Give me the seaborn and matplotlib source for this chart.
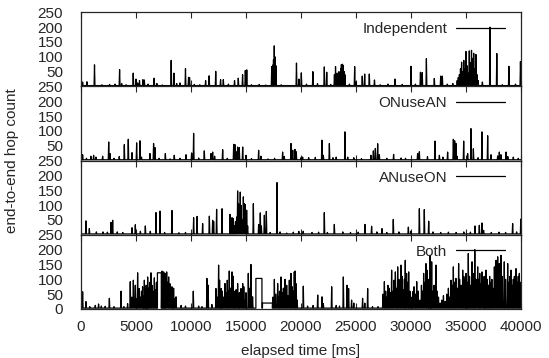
import numpy as np
import pandas as pd
import matplotlib
matplotlib.use("Agg")
import matplotlib.pyplot as plt
import seaborn as sns

# panel names (legend labels), top to bottom
panel_names = ["Independent", "ONuseAN", "ANuseON", "Both"]

# (elapsed ms, hop count) peaks
independent_peaks = [
    (150, 15), (540, 16), (1230, 73), (1900, 6), (2600, 7), (3100, 8), (3510, 57), (3700, 10),
    (4100, 6), (4750, 45), (5000, 25), (5150, 12), (5320, 20), (5630, 23), (5760, 22), (6100, 8),
    (6650, 28), (6900, 10), (7400, 5), (8200, 88), (8450, 45), (8700, 10), (9000, 12), (9500, 60),
    (9780, 31), (9870, 30), (10300, 7), (10800, 6), (11330, 20), (11650, 36), (12250, 51),
    (12690, 23), (12940, 23), (13400, 8), (13960, 20), (14300, 28), (14690, 40), (14940, 54),
    (15070, 56), (15500, 6), (16200, 7), (16800, 5),
    (17340, 67), (17420, 72), (17500, 90), (17570, 137), (17640, 100), (17720, 70),
    (18200, 6), (19590, 79), (19810, 25), (20030, 46), (20500, 8), (21080, 50), (21500, 10),
    (22120, 66), (22340, 48), (22700, 7),
    (23040, 40), (23140, 67), (23220, 30), (23290, 45), (23380, 25), (23450, 50), (23520, 33),
    (23610, 60), (23670, 74), (23770, 75), (23830, 71), (23930, 50), (23990, 40),
    (24400, 8), (24880, 67), (25000, 15), (25570, 35), (25790, 42), (26210, 42), (26680, 22),
    (27200, 6), (27900, 8), (28550, 25), (29200, 7), (30000, 68), (30400, 8), (30860, 48),
    (31020, 47), (31400, 94), (32120, 27), (32700, 35), (32850, 35), (33300, 8), (33800, 10),
    (34200, 20), (34300, 30), (34400, 40), (34500, 60), (34600, 82), (34700, 50), (34800, 88),
    (34900, 60), (35000, 118), (35100, 70), (35200, 45), (35300, 120), (35400, 80), (35500, 122),
    (35600, 95), (35700, 112), (35800, 60), (35900, 108), (36000, 40), (36100, 20),
    (36490, 15), (37180, 200), (37800, 111), (38300, 6), (38900, 68), (39500, 8), (39950, 84),
]

onusean_peaks = [
    (150, 20), (500, 8), (900, 15), (1150, 18), (1360, 12), (1970, 15), (2520, 63), (2640, 24),
    (3000, 8), (3480, 14), (3940, 54), (4300, 72), (4640, 27), (5060, 60), (5360, 67), (5500, 12),
    (6270, 24), (6600, 58), (6730, 44), (7100, 8), (7670, 24), (8100, 6), (8480, 18), (9000, 8),
    (9550, 20), (10060, 26), (10240, 92), (10700, 9), (11210, 33), (11820, 24), (11970, 29),
    (12150, 15), (12880, 37), (13300, 8), (13880, 55), (14000, 54), (14100, 30), (14240, 46),
    (14390, 44), (14700, 46), (15000, 18), (15500, 7), (16150, 35), (16360, 15), (17000, 6),
    (17600, 8), (18330, 29), (18480, 14), (19090, 58), (19250, 35), (19450, 38), (19570, 30),
    (20000, 10), (20150, 12), (20700, 10), (21300, 11), (21900, 69), (22030, 18), (22580, 58),
    (22900, 10), (23200, 12), (24000, 97), (24250, 12), (24800, 10), (25500, 7), (26360, 18),
    (26580, 33), (26760, 41), (26970, 57), (27120, 20), (27800, 8), (28420, 21), (29100, 9),
    (29500, 8), (30600, 24), (30760, 30), (31500, 14), (32180, 66), (32580, 18), (32900, 12),
    (33330, 29), (33850, 72), (33970, 67), (34090, 58), (34180, 15), (34790, 66), (35150, 24),
    (35450, 108), (35670, 40), (36100, 10), (36450, 97), (36970, 84), (37270, 20), (37880, 16),
    (38030, 29), (38180, 20), (38640, 29), (38800, 14), (39300, 12), (39750, 8),
]

anuseon_peaks = [
    (450, 47), (760, 21), (1400, 10), (2000, 10), (2400, 9), (2730, 42), (2880, 49), (3300, 10),
    (3800, 8), (4640, 24), (4940, 34), (5400, 12), (5850, 30), (6300, 12), (6820, 75), (7180, 80),
    (7600, 8), (8270, 82), (8900, 7), (9500, 8), (10240, 58), (10550, 62), (11060, 38),
    (11670, 63), (11970, 49), (12060, 45), (12330, 86), (12820, 88), (13550, 69), (13730, 58),
    (13850, 55), (13950, 30), (14050, 45), (14150, 60), (14240, 148), (14320, 105), (14400, 60),
    (14480, 144), (14560, 99), (14650, 50), (14760, 128), (14850, 105), (14940, 102),
    (15060, 83), (15150, 30), (15670, 105), (16150, 35), (16300, 74), (16400, 30), (16670, 66),
    (16850, 79), (17200, 8), (17820, 176), (18100, 10), (18700, 6), (19300, 9), (19800, 12),
    (20200, 12), (21000, 8), (21600, 9), (22120, 75), (22400, 8), (23030, 35), (23800, 10),
    (24500, 8), (25200, 9), (25820, 35), (26420, 29), (26900, 10), (27360, 21), (27800, 8),
    (28390, 52), (28900, 10), (29760, 26), (30000, 12), (30760, 88), (31210, 85), (31610, 46),
    (32000, 10), (32700, 8), (33400, 9), (34100, 8), (34800, 10), (35400, 9), (35820, 30),
    (36210, 32), (36450, 40), (36600, 15), (37300, 8), (38000, 9), (38600, 8), (39240, 38),
    (39600, 10), (39980, 53),
]

both_peaks = [
    (150, 58), (450, 25), (800, 8), (1300, 12), (1600, 17), (1850, 10), (2200, 9), (2580, 36),
    (3000, 8), (3640, 60), (3900, 8), (4240, 18), (4480, 92), (4620, 40), (4760, 97), (4850, 30),
    (4940, 80), (5050, 35), (5150, 122), (5300, 69), (5400, 40), (5500, 60), (5600, 75),
    (5700, 45), (5760, 97), (5850, 55), (5930, 80), (6000, 50), (6060, 108), (6150, 70),
    (6250, 90), (6360, 122), (6450, 80), (6550, 60), (6670, 105), (6780, 64), (6860, 90),
    (7360, 128), (7440, 90), (7520, 125), (7600, 100), (7670, 120), (7790, 125), (7880, 90),
    (7970, 108), (8090, 85), (8180, 60), (8270, 75), (8350, 50), (8420, 70), (8520, 35),
    (8640, 41), (9100, 12), (9500, 10), (10210, 60), (10700, 10), (11000, 8), (11450, 103),
    (11560, 80), (11900, 15), (12270, 69), (12400, 40), (12510, 148), (12600, 97), (12680, 50),
    (12750, 69), (12850, 60), (12950, 40), (13090, 86), (13200, 55), (13300, 97), (13400, 60),
    (13480, 128), (13580, 70), (13730, 125), (13820, 111), (13920, 60), (14000, 40), (14100, 65),
    (14240, 86), (14330, 30), (14400, 55), (14550, 69), (14700, 86), (14800, 75), (14900, 30),
    (15000, 55), (15210, 120), (15300, 70), (15450, 150), (15600, 41),
    (17450, 40), (17580, 100), (17700, 50), (17880, 86), (17970, 40), (18050, 60), (18180, 108),
    (18300, 55), (18400, 70), (18550, 100), (18700, 80), (18800, 45), (18940, 97), (19090, 120),
    (19200, 75), (19300, 60), (19390, 125), (19480, 128), (19560, 85), (19650, 30),
    (20210, 77), (20600, 10), (21100, 12), (21520, 47), (21910, 41), (22030, 18), (22790, 75),
    (23200, 12), (23500, 10), (23850, 108), (24180, 80), (24330, 69), (24600, 30), (24800, 20),
    (25600, 36), (25800, 20), (26060, 69), (26500, 8), (27000, 8),
    (27450, 50), (27580, 92), (27700, 60), (27800, 40), (27900, 80), (28000, 70), (28100, 55),
    (28240, 131), (28350, 60), (28450, 97), (28580, 125), (28700, 70), (28790, 142), (28900, 100),
    (29000, 60), (29090, 148), (29200, 110), (29300, 65), (29400, 100), (29480, 164), (29600, 120),
    (29700, 90), (29790, 125), (29900, 60), (30000, 40), (30150, 58), (30280, 75), (30400, 50),
    (30520, 92), (30650, 60), (30800, 30), (30950, 80), (31050, 60), (31150, 120), (31260, 90),
    (31360, 153), (31450, 131), (31550, 70), (31630, 100), (31730, 181), (31800, 120),
    (31880, 159), (31980, 60), (32100, 80), (32270, 148), (32380, 60), (32500, 40), (32650, 20),
    (32800, 30), (32950, 45), (33100, 25), (33250, 50), (33400, 70), (33500, 40), (33640, 97),
    (33750, 80), (33850, 142), (33950, 90), (34090, 103), (34200, 70), (34330, 153), (34420, 100),
    (34550, 80), (34700, 131), (34800, 110), (34900, 100), (35000, 120), (35100, 90),
    (35210, 187), (35320, 110), (35420, 80), (35550, 159), (35650, 120), (35800, 200),
    (35900, 100), (36060, 142), (36150, 100), (36250, 120), (36350, 85), (36450, 125),
    (36550, 90), (36650, 110), (36720, 70), (36820, 131), (36920, 100), (37050, 80), (37150, 110),
    (37250, 90), (37350, 100), (37450, 70), (37580, 142), (37730, 164), (37880, 176),
    (38030, 153), (38180, 181), (38300, 110), (38480, 159), (38600, 100), (38790, 153),
    (38900, 90), (39000, 110), (39100, 131), (39200, 80), (39300, 100), (39400, 110),
    (39550, 136), (39650, 90), (39750, 110), (39850, 120), (39950, 90),
]
# flat stretches in the "Both" trace: (start ms, end ms, hop count)
both_plateaus = [(6950, 7300, 122), (15900, 16450, 103), (16500, 17400, 20)]

panel_peaks = [independent_peaks, onusean_peaks, anuseon_peaks, both_peaks]
panel_plateaus = [[], [], [], both_plateaus]


def build_trace(peaks, plateaus, base=3, half=40):
    pts = [(0, base)]
    for t, h in peaks:
        pts += [(t - half, base), (t, h), (t + half, base)]
    for t0, t1, v in plateaus:
        pts += [(t0, base), (t0, v), (t1, v), (t1, base)]
    pts.append((40000, base))
    pts.sort(key=lambda p: p[0])
    return pd.DataFrame(pts, columns=["ms", "hops"])


sns.set_style("ticks")
plt.rcParams["font.family"] = ["Liberation Sans", "DejaVu Sans"]
plt.rcParams["font.size"] = 11

fig, axes = plt.subplots(4, 1, sharex=True, figsize=(5.49, 3.58), dpi=100)
fig.subplots_adjust(left=0.1475, right=0.949, top=0.9656, bottom=0.1369, hspace=0)

for i, ax in enumerate(axes):
    df = build_trace(panel_peaks[i], panel_plateaus[i])
    sns.lineplot(data=df, x="ms", y="hops", ax=ax, color="black", linewidth=0.9,
                 estimator=None, sort=False, label=panel_names[i])
    ax.set_xlim(0, 40000)
    ax.set_ylim(0, 250)
    ax.set_yticks(range(0, 251, 50))
    if i < 3:
        ax.set_yticklabels([""] + [str(v) for v in range(50, 251, 50)])
    ax.set_ylabel("")
    ax.set_xlabel("")
    ax.set_xticks(range(0, 40001, 5000))
    ax.tick_params(axis="x", direction="in", top=True, bottom=True, length=4, width=0.8,
                   labelsize=11, pad=8)
    ax.tick_params(axis="y", length=0, labelsize=11, pad=13)
    for s in ax.spines.values():
        s.set_linewidth(0.9)
    ax.legend(loc="upper right", bbox_to_anchor=(0.985, 0.99), frameon=False,
              markerfirst=False, handlelength=3.2, handletextpad=0.6, borderaxespad=0.2,
              fontsize=11)

axes[-1].set_xlabel("elapsed time [ms]", fontsize=11, labelpad=7)
fig.text(0.022, 0.55, "end-to-end hop count", rotation=90, ha="center", va="center", fontsize=11)

fig.savefig("out.png", dpi=100)
